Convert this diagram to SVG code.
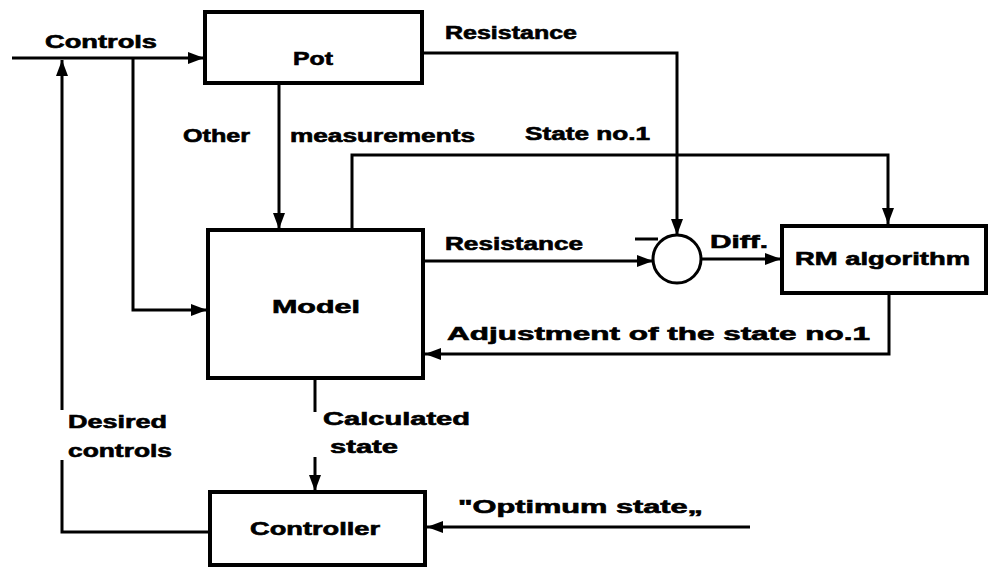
<svg xmlns="http://www.w3.org/2000/svg" width="990" height="569" viewBox="0 0 990 569">
<defs>
<style>
.box{fill:#fff;stroke:#000;stroke-width:4}
.ln{fill:none;stroke:#000;stroke-width:3}
.t{font-family:"Liberation Sans",Arial,sans-serif;font-weight:bold;font-size:18px;fill:#000;stroke:#000;stroke-width:0.6}
</style>
<marker id="a" viewBox="0 0 16 12" refX="16" refY="6" markerWidth="16" markerHeight="12" markerUnits="userSpaceOnUse" orient="auto">
<path d="M0,0 L16,6 L0,12 z" fill="#000"/>
</marker>
</defs>
<rect width="990" height="569" fill="#fff"/>
<g id="connectors">
<path class="ln" d="M12,58 H204" marker-end="url(#a)"/>
<path class="ln" d="M133,58 V310 H207" marker-end="url(#a)"/>
<path class="ln" d="M62,410 V60" marker-end="url(#a)"/>
<path class="ln" d="M210,532 H62 V460"/>
<path class="ln" d="M279,83 V229" marker-end="url(#a)"/>
<path class="ln" d="M422,53 H677 V235" marker-end="url(#a)"/>
<path class="ln" d="M352,230 V155 H888 V224" marker-end="url(#a)"/>
<path class="ln" d="M423,261 H653" marker-end="url(#a)"/>
<path class="ln" d="M701,259 H781" marker-end="url(#a)"/>
<path class="ln" d="M889,293 V354 H425" marker-end="url(#a)"/>
<path class="ln" d="M315,378 V412"/>
<path class="ln" d="M315,457 V491" marker-end="url(#a)"/>
<path class="ln" d="M750,527 H427" marker-end="url(#a)"/>
<path d="M635,239 H658" stroke="#000" stroke-width="3"/>
</g>
<g id="pot">
<rect class="box" x="205" y="12" width="217" height="71"/>
<text class="t" x="293" y="65" textLength="40" lengthAdjust="spacingAndGlyphs">Pot</text>
</g>
<g id="model">
<rect class="box" x="208" y="230" width="215" height="148"/>
<text class="t" x="272" y="313" textLength="88" lengthAdjust="spacingAndGlyphs">Model</text>
</g>
<g id="sum">
<ellipse cx="677" cy="259" rx="24" ry="24" fill="#fff" stroke="#000" stroke-width="3"/>
</g>
<g id="rm">
<rect class="box" x="782" y="226" width="204" height="67"/>
<text class="t" x="795" y="265" textLength="175" lengthAdjust="spacingAndGlyphs">RM algorithm</text>
</g>
<g id="controller">
<rect class="box" x="210" y="492" width="215" height="73"/>
<text class="t" x="250" y="535" textLength="130" lengthAdjust="spacingAndGlyphs">Controller</text>
</g>
<g id="labels">
<text class="t" x="45" y="48" textLength="112" lengthAdjust="spacingAndGlyphs">Controls</text>
<text class="t" x="445" y="39" textLength="132" lengthAdjust="spacingAndGlyphs">Resistance</text>
<text class="t" x="183" y="142" textLength="67" lengthAdjust="spacingAndGlyphs">Other</text>
<text class="t" x="290" y="142" textLength="185" lengthAdjust="spacingAndGlyphs">measurements</text>
<text class="t" x="525" y="140" textLength="125" lengthAdjust="spacingAndGlyphs">State no.1</text>
<text class="t" x="445" y="250" textLength="138" lengthAdjust="spacingAndGlyphs">Resistance</text>
<text class="t" x="710" y="248" textLength="58" lengthAdjust="spacingAndGlyphs">Diff.</text>
<text class="t" x="447" y="340" textLength="423" lengthAdjust="spacingAndGlyphs">Adjustment of the state no.1</text>
<text class="t" x="68" y="428" textLength="99" lengthAdjust="spacingAndGlyphs">Desired</text>
<text class="t" x="68" y="457" textLength="104" lengthAdjust="spacingAndGlyphs">controls</text>
<text class="t" x="323" y="425" textLength="147" lengthAdjust="spacingAndGlyphs">Calculated</text>
<text class="t" x="330" y="453" textLength="68" lengthAdjust="spacingAndGlyphs">state</text>
<text class="t" x="458" y="513" textLength="245" lengthAdjust="spacingAndGlyphs">"Optimum state„</text>
</g>
</svg>
